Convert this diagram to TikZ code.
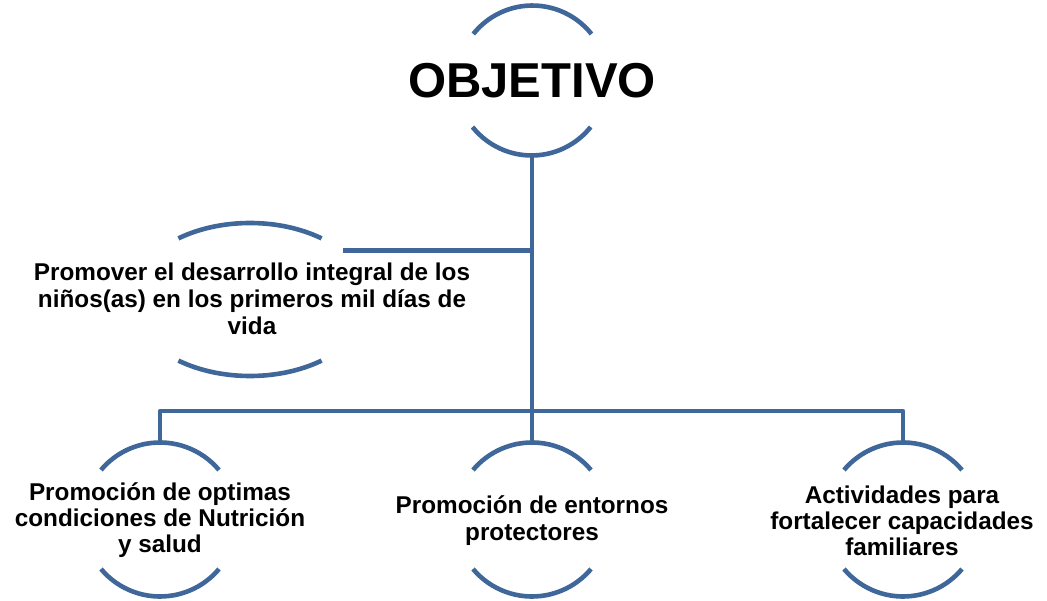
\documentclass[tikz,border=0pt]{standalone}
\usepackage{fontspec}
\setmainfont{Liberation Sans}
\definecolor{arcblue}{RGB}{63,103,153}
\begin{document}
\begin{tikzpicture}[x=1pt,y=1pt,
  arcline/.style={draw=arcblue,line width=4.6pt},
  conn/.style={draw=arcblue,line width=4.6pt,line join=round},
  ring/.style={circle,minimum size=#1,inner sep=0pt,outer sep=0pt},
  oval/.style={inner sep=0pt,outer sep=0pt,minimum width=238,minimum height=153},
  lbl/.style={align=center,inner sep=0pt,font=\bfseries\fontsize{24.3}{26.3}\selectfont},
]
\useasboundingbox (0,0) rectangle (1047,-601);
% shape holders
\node[ring=151] (obj) at (532,-80.5) {};
\node[ring=154] (n1) at (160,-519.5) {};
\node[ring=154] (n2) at (532,-519.5) {};
\node[ring=154] (n3) at (903,-519.5) {};
\node[oval] (lft) at (250,-299.5) {};
% texts
\node[font=\bfseries\fontsize{49}{55}\selectfont,inner sep=0pt] (tobj) at (obj.center) {OBJETIVO};
\node[lbl,font=\bfseries\fontsize{24.3}{27}\selectfont] (tlft) at (252,-299) {Promover el desarrollo integral de los\\niños(as) en los primeros mil días de\\vida};
\node[lbl] (t1) at (160,-520) {Promoción de optimas\\condiciones de Nutrición\\y salud};
\node[lbl] (t2) at (532,-520.5) {Promoción de entornos\\protectores};
\node[lbl] (t3) at (902,-521) {Actividades para\\fortalecer capacidades\\familiares};
% arcs
\draw[arcline] (obj.38.5) arc[start angle=38.5,end angle=141.5,radius=75.5];
\draw[arcline] (obj.218.5) arc[start angle=218.5,end angle=321.5,radius=75.5];
\foreach \n in {n1,n2,n3}{
  \draw[arcline] (\n.40) arc[start angle=40,end angle=140,radius=77];
  \draw[arcline] (\n.220) arc[start angle=220,end angle=320,radius=77];
}
\draw[arcline] ([shift={(53:119 and 76.5)}]lft.center) arc[start angle=53,end angle=127,x radius=119,y radius=76.5];
\draw[arcline] ([shift={(233:119 and 76.5)}]lft.center) arc[start angle=233,end angle=307,x radius=119,y radius=76.5];
% connectors
\coordinate (lc) at (343,-250.7);
\coordinate (bus) at (0,-411);
\draw[conn] (obj.south) -- (n2.north);
\draw[conn] (lc) -- (lc -| obj.south);
\draw[conn] (n1.north) -- (n1.north |- bus) -- (n3.north |- bus) -- (n3.north);
\end{tikzpicture}
\end{document}
